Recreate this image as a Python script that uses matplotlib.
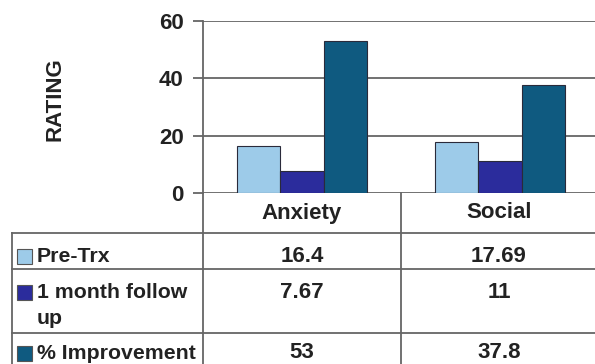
import numpy as np
import matplotlib.pyplot as plt

categories = ['Anxiety', 'Social']
series_names = ['Pre-Trx', '1 month follow\nup', '% Improvement']
pre_trx = [16.4, 17.69]
follow_up = [7.67, 11]
improvement = [53, 37.8]
value_labels = [['16.4', '17.69'], ['7.67', '11'], ['53', '37.8']]
colors = ['#9dcbe9', '#2b2c9c', '#0f5a80']

W, H = 595, 364
plt.rcParams['font.family'] = ['Liberation Sans', 'DejaVu Sans']
plt.rcParams['font.weight'] = 'bold'
fig = plt.figure(figsize=(W / 100, H / 100), dpi=100)

def px(x0, y0, x1, y1):
    # pixel box (top-left origin) -> figure fraction rect
    return [x0 / W, 1 - y1 / H, (x1 - x0) / W, (y1 - y0) / H]

txt_col = '#222222'
line_col = '#666666'
fs = 16

# bar chart
ax = fig.add_axes(px(203, 21, 599, 193))
x = np.arange(len(categories))
bw = 0.22
for i, vals in enumerate([pre_trx, follow_up, improvement]):
    ax.bar(x + (i - 1) * bw, vals, bw, color=colors[i],
           edgecolor='#2a2a3a', linewidth=0.8, zorder=3)
ax.set_xlim(-0.5, 1.5)
ax.set_ylim(0, 60)
ax.set_yticks([0, 20, 40, 60])
ax.yaxis.grid(True, color=line_col, linewidth=1.3, zorder=0)
ax.set_xticks([])
for s in ['top', 'right', 'bottom']:
    ax.spines[s].set_visible(False)
ax.spines['left'].set_color(line_col)
ax.spines['left'].set_linewidth(1.3)
ax.tick_params(axis='y', length=7, width=1.3, color=line_col,
               labelsize=fs, labelcolor=txt_col, pad=7)
fig.text(55 / W, 1 - 99 / H, 'RATING', rotation=90, ha='center',
         va='center', fontsize=fs, color=txt_col)

# data table underneath
tb = fig.add_axes([0, 0, 1, 1], facecolor='none')
tb.set_xlim(0, W)
tb.set_ylim(H, 0)
tb.axis('off')
lk = dict(color=line_col, linewidth=1.3)
tb.plot([203, 203], [193, H], **lk)
tb.plot([401, 401], [193, H], **lk)
tb.plot([12, 12], [233, H], **lk)
for yy in [233, 269, 333]:
    tb.plot([12, W], [yy, yy], **lk)

col_x = [302, 499]
for j, c in enumerate(categories):
    tb.text(col_x[j], 213, c, ha='center', va='center', fontsize=fs,
            color=txt_col)

row_y = [256, 292, 353]
for i, name in enumerate(series_names):
    tb.add_patch(plt.Rectangle((17, row_y[i] - 7), 15, 15,
                               facecolor=colors[i], edgecolor='#555555',
                               linewidth=0.8))
    tb.text(37, row_y[i] - 9, name, ha='left', va='top', fontsize=15.3,
            color=txt_col, linespacing=1.5)
    for j in range(len(categories)):
        tb.text(col_x[j], row_y[i], value_labels[i][j], ha='center',
                va='center', fontsize=fs, color=txt_col)

fig.savefig('out.png', dpi=100)
